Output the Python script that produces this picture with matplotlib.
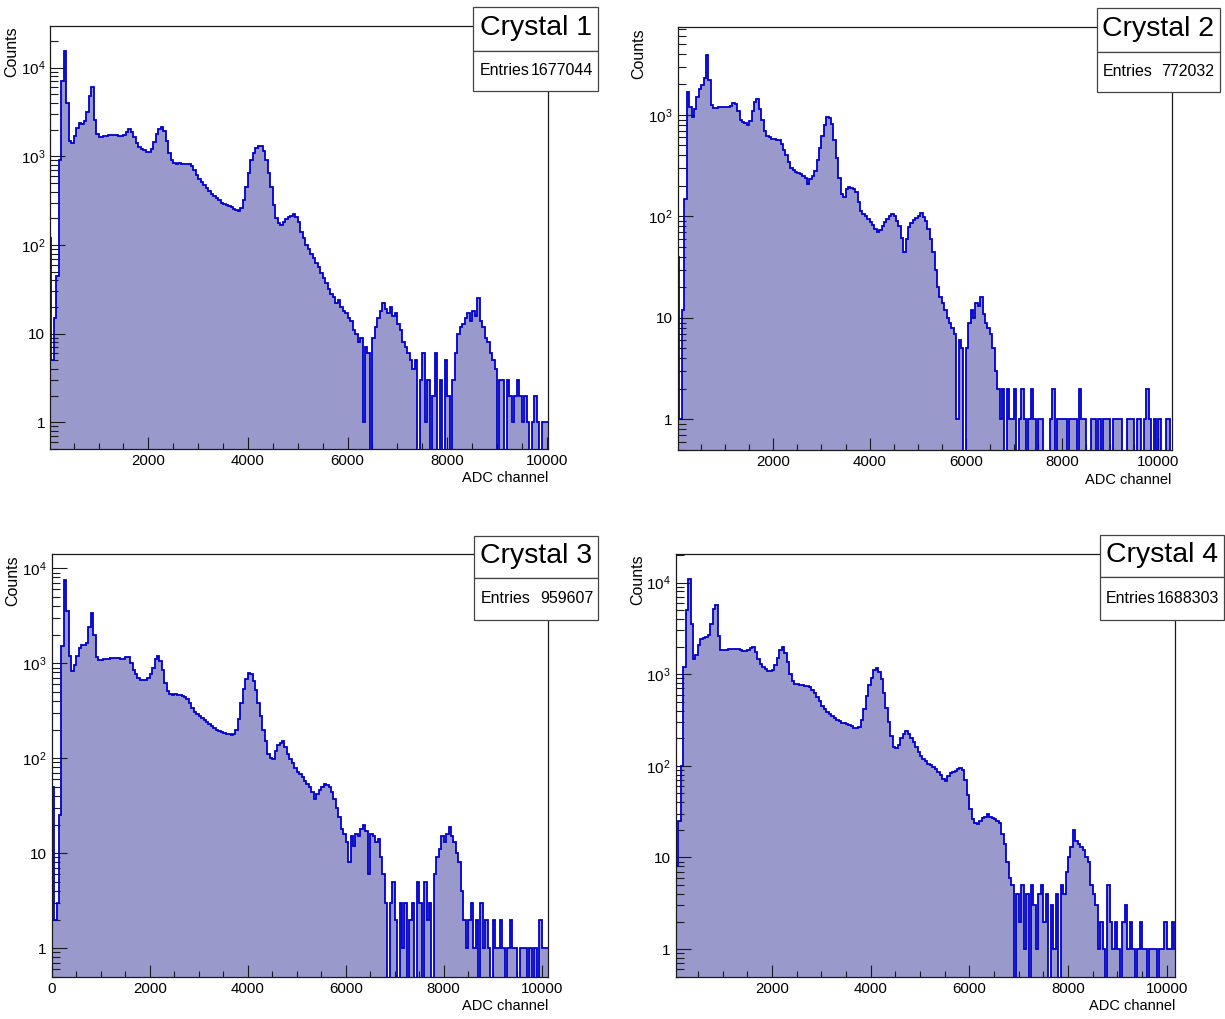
import numpy as np
import matplotlib
matplotlib.use("Agg")
import matplotlib.pyplot as plt
from matplotlib.patches import Rectangle
from matplotlib.ticker import MultipleLocator, LogLocator, FixedLocator, FixedFormatter, NullFormatter

# ---------------------------------------------------------------- data
BIN_WIDTH = 50          # ADC channels per bin
N_BINS = 206            # 0 .. 10300

# counts per bin, rows of 10 bins (500 channels per row)
crystal1 = [
    120, 5, 15, 45, 900, 7000, 15500, 4000, 1500, 1400,          # 0
    1700, 2100, 2400, 2300, 2500, 3200, 4800, 6100, 2600, 1800,  # 500
    1650, 1650, 1680, 1700, 1720, 1740, 1760, 1740, 1700, 1680,  # 1000
    1750, 1900, 2050, 1900, 1650, 1400, 1280, 1220, 1180, 1130,  # 1500
    1120, 1200, 1450, 1800, 2050, 2150, 1950, 1500, 1100, 900,   # 2000
    850, 830, 840, 830, 820, 830, 810, 780, 700, 620,            # 2500
    560, 510, 470, 440, 410, 380, 360, 340, 320, 300,            # 3000
    290, 280, 275, 265, 255, 245, 240, 260, 320, 450,            # 3500
    650, 900, 1100, 1250, 1320, 1300, 1150, 900, 650, 450,       # 4000
    280, 200, 175, 170, 180, 195, 205, 215, 225, 205,            # 4500
    180, 140, 120, 100, 90, 80, 72, 62, 56, 48,                  # 5000
    42, 37, 32, 28, 26, 22, 24, 20, 18, 17,                      # 5500
    15, 14, 11, 10, 8, 9, 1, 7, 6, 0,                            # 6000
    9, 12, 15, 18, 22, 19, 17, 20, 16, 17,                       # 6500
    13, 11, 8, 7, 6, 5, 4, 5, 0, 3,                              # 7000
    6, 1, 3, 0, 2, 6, 0, 3, 0, 5,                                # 7500
    2, 0, 3, 6, 10, 12, 13, 15, 17, 14,                          # 8000
    18, 16, 25, 14, 12, 9, 8, 6, 5, 4,                           # 8500
    0, 3, 3, 0, 3, 2, 1, 2, 3, 2,                                # 9000
    1, 2, 1, 0, 1, 2, 1, 0, 1, 1,                                # 9500
    1, 0, 0, 0, 0, 0,                                            # 10000
]

crystal2 = [
    40, 1, 12, 150, 1700, 1200, 950, 1150, 1500, 1800,           # 0
    1950, 2300, 3900, 2200, 1250, 1180, 1180, 1200, 1190, 1200,  # 500
    1210, 1200, 1230, 1300, 1280, 1100, 900, 850, 830, 800,      # 1000
    880, 1100, 1350, 1420, 1150, 900, 700, 620, 600, 580,        # 1500
    575, 570, 560, 520, 450, 400, 340, 300, 285, 275,            # 2000
    265, 260, 250, 240, 210, 235, 250, 280, 360, 470,            # 2500
    620, 800, 950, 930, 820, 560, 380, 240, 165, 155,            # 3000
    185, 195, 190, 185, 175, 140, 112, 105, 100, 95,             # 3500
    88, 82, 76, 70, 74, 80, 88, 95, 100, 106,                    # 4000
    100, 90, 80, 62, 45, 60, 78, 86, 92, 96,                     # 4500
    100, 108, 98, 90, 75, 60, 45, 30, 20, 16,                    # 5000
    14, 12, 10, 9, 8, 7, 1, 6, 5, 0,                             # 5500
    5, 9, 12, 10, 14, 13, 16, 11, 9, 8,                          # 6000
    7, 5, 3, 2, 1, 2, 0, 2, 1, 1,                                # 6500
    2, 0, 1, 2, 1, 0, 1, 2, 1, 0,                                # 7000
    1, 1, 0, 0, 0, 1, 2, 0, 1, 1,                                # 7500
    1, 1, 0, 1, 1, 1, 0, 2, 1, 1,                                # 8000
    0, 0, 1, 1, 0, 1, 0, 1, 1, 1,                                # 8500
    0, 1, 1, 1, 1, 0, 0, 1, 1, 1,                                # 9000
    0, 1, 1, 0, 1, 2, 1, 0, 1, 0,                                # 9500
    1, 0, 0, 1, 1, 0,                                            # 10000
]

crystal3 = [
    50, 2, 3, 25, 1500, 7500, 3500, 1200, 820, 950,              # 0
    1200, 1450, 1550, 1550, 1650, 2400, 3400, 2000, 1150, 1090,  # 500
    1080, 1100, 1100, 1110, 1120, 1130, 1130, 1120, 1110, 1100,  # 1000
    1160, 1150, 1000, 850, 760, 700, 670, 660, 665, 690,         # 1500
    760, 900, 1100, 1200, 1050, 850, 620, 510, 475, 465,         # 2000
    470, 465, 460, 455, 445, 420, 380, 340, 305, 290,            # 2500
    275, 262, 250, 238, 228, 218, 208, 200, 192, 187,            # 3000
    185, 180, 178, 176, 180, 200, 260, 380, 530, 680,            # 3500
    780, 760, 650, 520, 380, 280, 200, 150, 110, 100,            # 4000
    98, 120, 138, 145, 150, 130, 110, 98, 88, 78,                # 4500
    72, 68, 63, 58, 54, 50, 44, 37, 42, 46,                      # 5000
    50, 54, 52, 50, 44, 37, 30, 24, 18, 16,                      # 5500
    13, 8, 15, 12, 16, 15, 18, 20, 17, 6,                        # 6000
    16, 15, 13, 14, 9, 6, 3, 0, 3, 5,                            # 6500
    2, 0, 3, 1, 3, 0, 2, 3, 0, 5,                                # 7000
    3, 0, 5, 2, 3, 0, 6, 9, 11, 15,                              # 7500
    13, 16, 19, 15, 13, 10, 8, 4, 2, 1,                          # 8000
    2, 3, 1, 2, 0, 3, 1, 2, 1, 0,                                # 8500
    2, 1, 1, 2, 1, 0, 1, 2, 1, 1,                                # 9000
    0, 1, 1, 1, 0, 1, 0, 1, 0, 2,                                # 9500
    1, 1, 1, 0, 0, 0,                                            # 10000
]

crystal4 = [
    150, 8, 25, 100, 1200, 5000, 11000, 3500, 1450, 1600,        # 0
    2100, 2400, 2500, 2550, 2700, 3500, 5200, 5700, 2600, 1850,  # 500
    1850, 1860, 1870, 1880, 1900, 1900, 1880, 1820, 1780, 1800,  # 1000
    1850, 1950, 2000, 1750, 1450, 1300, 1200, 1130, 1090, 1080,  # 1500
    1120, 1250, 1500, 1850, 2000, 1700, 1350, 1000, 850, 790,    # 2000
    780, 770, 760, 750, 740, 720, 680, 620, 560, 510,            # 2500
    450, 420, 390, 365, 350, 330, 315, 305, 295, 290,            # 3000
    285, 280, 275, 262, 257, 265, 320, 420, 580, 760,            # 3500
    920, 1100, 1180, 1050, 880, 620, 430, 300, 210, 160,         # 4000
    155, 170, 200, 225, 238, 220, 200, 180, 160, 140,            # 4500
    128, 120, 112, 106, 102, 98, 92, 85, 80, 72,                 # 5000
    68, 78, 84, 86, 88, 92, 95, 90, 70, 48,                      # 5500
    34, 26, 24, 23, 25, 27, 28, 30, 28, 27,                      # 6000
    26, 25, 24, 18, 14, 9, 6, 5, 0, 4,                           # 6500
    2, 5, 1, 4, 0, 5, 3, 1, 4, 5,                                # 7000
    2, 4, 0, 3, 1, 4, 0, 5, 4, 7,                                # 7500
    10, 13, 20, 15, 14, 13, 12, 10, 9, 5,                        # 8000
    4, 3, 1, 2, 1, 0, 5, 2, 1, 2,                                # 8500
    1, 0, 2, 3, 1, 2, 1, 0, 1, 2,                                # 9000
    1, 1, 0, 1, 1, 1, 0, 1, 1, 2,                                # 9500
    1, 1, 2, 1, 0, 0,                                            # 10000
]

titles = ["Crystal 1", "Crystal 2", "Crystal 3", "Crystal 4"]
entries = ["1677044", "772032", "959607", "1688303"]
x_ranges = [(26, 10030), (13, 10278), (0, 10135), (49, 10168)]
y_ranges = [(0.5, 29760), (0.5, 7400), (0.5, 14000), (0.5, 20500)]
y_tick_values = [1, 10, 100, 1000, 10000]
y_tick_labels = ["1", "10", r"$\mathdefault{10^{2}}$", r"$\mathdefault{10^{3}}$",
                 r"$\mathdefault{10^{4}}$"]
x_label = "ADC channel"
y_label = "Counts"

# ---------------------------------------------------------------- style
FONT = ["Liberation Sans", "DejaVu Sans"]
plt.rcParams["font.family"] = FONT
plt.rcParams["mathtext.fontset"] = "custom"
plt.rcParams["mathtext.rm"] = "Liberation Sans"
plt.rcParams["mathtext.it"] = "Liberation Sans"
plt.rcParams["mathtext.bf"] = "Liberation Sans"

FILL = "#9999cc"
LINE = "#0000cc"
FRAME = "#1a1a1a"

W, H = 1225, 1019
fig = plt.figure(figsize=(W / 100, H / 100), dpi=100, facecolor="white")


def fx(px):
    return px / W


def fy(py):
    return 1 - py / H


# pixel frames: left, top, right, bottom
axes_px = [(50, 25.7, 548.3, 449), (677.7, 26.7, 1171.7, 450),
           (51.7, 554.3, 548.3, 976.7), (675.7, 554, 1175, 976.7)]
# stat boxes: left, top, right, separator, bottom
box_px = [(473.3, 7.3, 598.3, 50.7, 90.7), (1096.7, 8.3, 1219.5, 51.7, 91.7),
          (474, 535.7, 598.3, 577.7, 620), (1099.7, 535, 1224.3, 577.3, 620)]
xlabel_y = [478, 480, 1006, 1006]
counts_pos = [(11.7, 26.7), (639, 28.3), (13.2, 555), (637.5, 554.3)]

edges = np.arange(N_BINS + 1) * BIN_WIDTH
spectra = [crystal1, crystal2, crystal3, crystal4]

for i, counts in enumerate(spectra):
    l, t, r, b = axes_px[i]
    ax = fig.add_axes([fx(l), fy(b), fx(r) - fx(l), fy(t) - fy(b)])
    ax.set_yscale("log")
    vals = np.maximum(np.asarray(counts, dtype=float), 0.05)
    ax.stairs(vals, edges, baseline=0.05, fill=True, color=FILL, zorder=1)
    ax.stairs(vals, edges, baseline=None, fill=False, color=LINE,
              linewidth=1.3, zorder=2)
    ax.set_xlim(*x_ranges[i])
    ax.set_ylim(*y_ranges[i])

    for s in ax.spines.values():
        s.set_color(FRAME)
        s.set_linewidth(0.9)

    ax.xaxis.set_major_locator(MultipleLocator(2000))
    ax.xaxis.set_minor_locator(MultipleLocator(500))
    ax.yaxis.set_major_locator(FixedLocator(y_tick_values))
    ax.yaxis.set_major_formatter(FixedFormatter(y_tick_labels))
    ax.yaxis.set_minor_locator(LogLocator(base=10, subs=np.arange(2, 10), numticks=30))
    ax.yaxis.set_minor_formatter(NullFormatter())

    ax.tick_params(axis="x", which="major", direction="in", length=8.6, width=0.8,
                   color=FRAME, labelsize=10.8, pad=3.5, top=False)
    ax.tick_params(axis="x", which="minor", direction="in", length=4.3, width=0.8,
                   color=FRAME, top=False)
    ax.tick_params(axis="y", which="major", direction="in", length=10.8, width=0.8,
                   color=FRAME, labelsize=11, pad=3.5, right=False)
    ax.tick_params(axis="y", which="minor", direction="in", length=5.4, width=0.8,
                   color=FRAME, right=False)

    # axis titles
    fig.text(fx(r), fy(xlabel_y[i]), x_label, ha="right", va="center",
             fontsize=10.5)
    cx, cy = counts_pos[i]
    fig.text(fx(cx), fy(cy), y_label, rotation=90, ha="center", va="top",
             fontsize=11.5)

    # statistics box
    bl, bt, br, bs, bb = box_px[i]
    for top, bottom in ((bt, bs), (bs, bb)):
        fig.add_artist(Rectangle((fx(bl), fy(bottom)), fx(br) - fx(bl),
                                 fy(top) - fy(bottom), transform=fig.transFigure,
                                 facecolor="white", edgecolor="#444444",
                                 linewidth=0.9, zorder=5))
    fig.text(fx((bl + br) / 2), fy((bt + bs) / 2 - 1), titles[i], ha="center",
             va="center", fontsize=20.5, zorder=6)
    fig.text(fx(bl + 6.5), fy((bs + bb) / 2), "Entries", ha="left", va="center",
             fontsize=11.5, zorder=6)
    fig.text(fx(br - 5), fy((bs + bb) / 2), entries[i], ha="right", va="center",
             fontsize=11.5, zorder=6)

fig.savefig("out.png", dpi=100, facecolor="white")
